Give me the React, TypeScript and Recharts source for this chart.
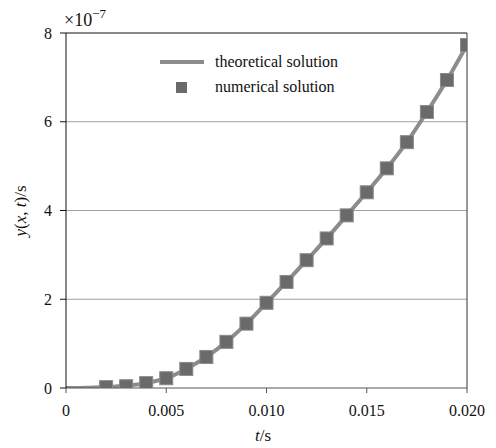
import React from 'react';
import { ComposedChart, Line, Scatter, XAxis, YAxis, CartesianGrid, ReferenceLine } from 'recharts';

// y values in units of 1e-7
const timeSteps = [0, 0.001, 0.002, 0.003, 0.004, 0.005, 0.006, 0.007, 0.008, 0.009, 0.01, 0.011, 0.012, 0.013, 0.014, 0.015, 0.016, 0.017, 0.018, 0.019, 0.02];
const theoreticalValues = [0, 0.003, 0.02, 0.05, 0.11, 0.22, 0.43, 0.7, 1.04, 1.45, 1.92, 2.39, 2.88, 3.37, 3.89, 4.41, 4.95, 5.54, 6.22, 6.94, 7.73];
const numericalTimes = [0.002, 0.003, 0.004, 0.005, 0.006, 0.007, 0.008, 0.009, 0.01, 0.011, 0.012, 0.013, 0.014, 0.015, 0.016, 0.017, 0.018, 0.019, 0.02];
const numericalValues = [0.02, 0.04, 0.11, 0.22, 0.43, 0.7, 1.04, 1.45, 1.92, 2.39, 2.88, 3.37, 3.89, 4.41, 4.95, 5.54, 6.22, 6.94, 7.73];
const xTicks = [0, 0.005, 0.01, 0.015, 0.02];
const yTicks = [0, 2, 4, 6, 8];
const legendLabels = ['theoretical solution', 'numerical solution'];

const theoryData = timeSteps.map((t, i) => ({ t, y: theoreticalValues[i] }));
const numericData = numericalTimes.map((t, i) => ({ t, y: numericalValues[i] }));

const FONT = '"Liberation Serif", "DejaVu Serif", serif';
const LINE_COLOR = '#8c8c8c';
const MARK_COLOR = '#6a6a6a';

const SquareMark = (props: any) => {
  const { cx, cy } = props;
  if (cx == null || cy == null) return null;
  return <rect x={cx - 6.5} y={cy - 6.5} width={13} height={13} fill={MARK_COLOR} stroke="#8a8a8a" strokeWidth={1} />;
};

const LegendBox = () => (
  <div style={{ position: 'absolute', left: 160, top: 51, width: 230, height: 50, fontFamily: FONT, fontSize: 16, color: '#111' }}>
    <svg width={50} height={50} style={{ position: 'absolute', left: 0, top: 0 }}>
      <line x1={0} y1={11} x2={44} y2={11} stroke={LINE_COLOR} strokeWidth={4} />
      <rect x={16} y={31} width={11} height={11} fill={MARK_COLOR} />
    </svg>
    <div style={{ position: 'absolute', left: 55, top: 1, whiteSpace: 'nowrap', lineHeight: '20px' }}>{legendLabels[0]}</div>
    <div style={{ position: 'absolute', left: 55, top: 26, whiteSpace: 'nowrap', lineHeight: '20px' }}>{legendLabels[1]}</div>
  </div>
);

const fmtX = (v: number) => (v === 0 ? '0' : v.toFixed(3));

export default function App() {
  return (
    <div style={{ position: 'absolute', left: 0, top: 0, width: 496, height: 448, fontFamily: FONT }}>
      <ComposedChart width={496} height={448} margin={{ top: 33, right: 29, left: 0, bottom: 0 }} style={{ fontFamily: FONT }}>
        <CartesianGrid vertical={false} horizontalValues={[2, 4, 6]} stroke="#a0a0a0" />
        <XAxis
          dataKey="t"
          type="number"
          domain={[0, 0.02]}
          ticks={xTicks}
          tickFormatter={fmtX}
          height={60}
          stroke="#555"
          tickSize={5}
          tickMargin={12}
          tick={{ fill: '#111', fontSize: 16, fontFamily: FONT }}
          fontFamily={FONT}
          fontSize={16}
          allowDataOverflow
          label={{
            content: () => (
              <text x={263} y={441} textAnchor="middle" fontFamily={FONT} fontSize={17} fill="#111">
                <tspan fontStyle="italic">t</tspan>
                <tspan>/s</tspan>
              </text>
            ),
          }}
        />
        <YAxis
          dataKey="y"
          type="number"
          domain={[0, 8]}
          ticks={yTicks}
          width={66}
          stroke="#111"
          tickSize={6}
          tickMargin={8}
          tick={{ fill: '#111', fontSize: 16, fontFamily: FONT }}
          fontFamily={FONT}
          fontSize={16}
          allowDataOverflow
          label={{
            content: () => (
              <g>
                <text x={26} y={211} transform="rotate(-90 26 211)" textAnchor="middle" fontFamily={FONT} fontSize={17} fill="#111">
                  <tspan fontStyle="italic">y</tspan>
                  <tspan>(</tspan>
                  <tspan fontStyle="italic">x</tspan>
                  <tspan>, </tspan>
                  <tspan fontStyle="italic">t</tspan>
                  <tspan>)/s</tspan>
                </text>
                <text x={64} y={26} fontFamily={FONT} fontSize={18} fill="#111">
                  <tspan>×10</tspan>
                  <tspan fontSize={13} dy={-8}>−7</tspan>
                </text>
              </g>
            ),
          }}
        />
        <ReferenceLine y={8} stroke="#111" strokeWidth={1} />
        <ReferenceLine x={0.02} stroke="#333" strokeWidth={1} />
        <Line
          data={theoryData}
          dataKey="y"
          type="monotone"
          stroke={LINE_COLOR}
          strokeWidth={4}
          dot={false}
          activeDot={false}
          isAnimationActive={false}
        />
        <Scatter data={numericData} dataKey="y" shape={<SquareMark />} isAnimationActive={false} />
      </ComposedChart>
      <LegendBox />
    </div>
  );
}
